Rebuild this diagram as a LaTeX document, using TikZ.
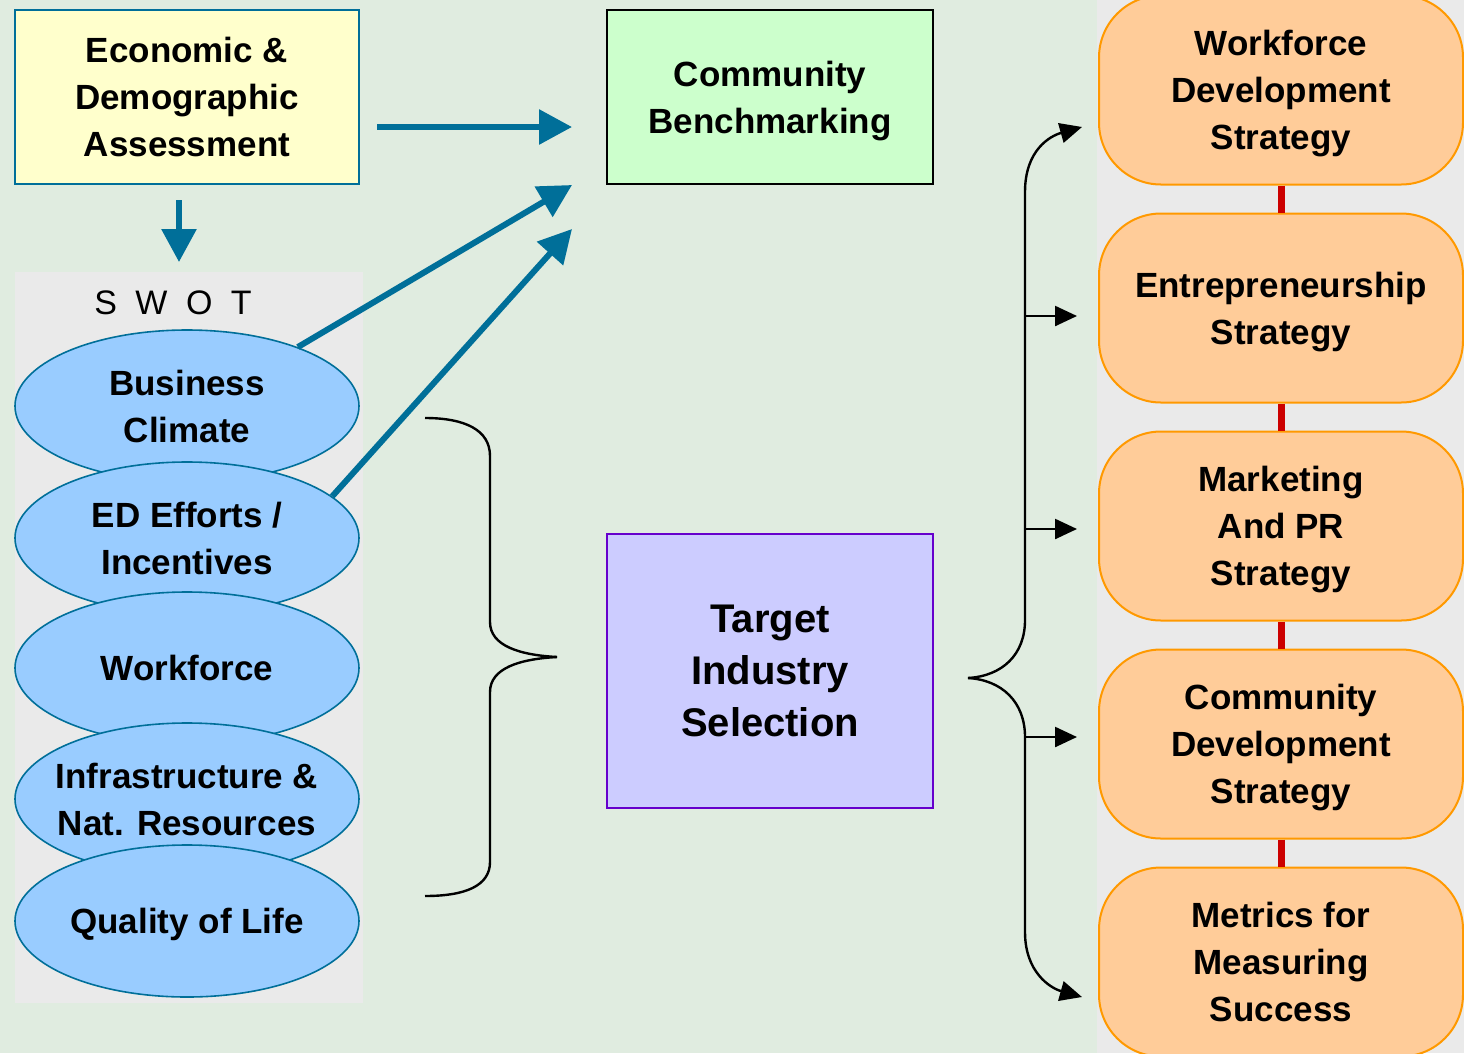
\documentclass[tikz,border=0pt]{standalone}
\usepackage{fontspec}
\setmainfont{Liberation Sans}
\usetikzlibrary{positioning, arrows.meta, shapes.geometric}
\definecolor{bggreen}{RGB}{224,236,224}
\definecolor{panelgray}{RGB}{234,234,234}
\definecolor{flowblue}{RGB}{0,111,153}
\definecolor{econyellow}{RGB}{255,255,204}
\definecolor{benchgreen}{RGB}{204,255,204}
\definecolor{targetblue}{RGB}{204,204,255}
\definecolor{targetedge}{RGB}{102,0,204}
\definecolor{swotblue}{RGB}{153,204,255}
\definecolor{stratorange}{RGB}{255,204,153}
\definecolor{stratedge}{RGB}{255,153,0}
\definecolor{linkred}{RGB}{204,0,0}
\tikzset{
  every node/.style={font=\bfseries\fontsize{35}{47}\selectfont, align=center,
    text depth=0pt},
  node distance=27pt,
  inputbox/.style={draw=flowblue, line width=2pt, fill=econyellow,
    minimum width=344pt, minimum height=174pt, inner sep=0pt},
  benchbox/.style={draw=black, line width=2pt, fill=benchgreen,
    minimum width=326pt, minimum height=174pt, inner sep=0pt},
  targetbox/.style={draw=targetedge, line width=2pt, fill=targetblue,
    minimum width=326pt, minimum height=274pt, inner sep=0pt,
    font=\bfseries\fontsize{40}{52}\selectfont},
  factor/.style={ellipse, draw=flowblue, line width=1.6pt, fill=swotblue,
    minimum width=344pt, minimum height=152pt, inner xsep=-30pt, inner ysep=0pt},
  strategy/.style={draw=stratedge, line width=2pt, fill=stratorange,
    rounded corners=62pt, minimum width=364pt, minimum height=189pt, inner sep=0pt},
  flow/.style={draw=flowblue, line width=6pt, -{Triangle[length=33pt,width=34pt]}},
  link/.style={draw=linkred, line width=7pt},
  bracepath/.style={draw=black, line width=2.4pt},
  stratarrow/.style={bracepath, -{Triangle[length=22pt,width=20pt]}},
}

\begin{document}
\begin{tikzpicture}[x=1pt,y=-1pt]
  \useasboundingbox (0,0) rectangle (1464,1053);
  \fill[bggreen] (0,0) rectangle (1464,1053);
  \fill[panelgray] (15,272) rectangle (363,1003);
  \fill[panelgray] (1097,0) rectangle (1464,1053);

  % SWOT factors
  \node[font=\fontsize{34}{40}\selectfont] (swot) at (173,303)
    {S\hspace{18.5pt}W\hspace{18.5pt}O\hspace{18.5pt}T};
  \node[factor] (bc)  at (187,406) {Business\\Climate};
  \node[factor] (ed)  at (187,538) {ED Efforts /\\Incentives};
  \node[factor] (wf)  at (187,668) {Workforce};
  \node[factor] (inf) at (187,799) {Infrastructure \&\\Nat. Resources};
  \node[factor] (qol) at (187,921) {Quality of Life};

  % main boxes
  \node[inputbox]  (econ)   at (187,97)  {Economic \&\\Demographic\\Assessment};
  \node[benchbox]  (bench)  at (770,97)  {Community\\Benchmarking};
  \node[targetbox] (target) at (770,671) {Target\\Industry\\Selection};

  % strategies
  \node[strategy] (wds) at (1281,90) {Workforce\\Development\\Strategy};
  \node[strategy, below=of wds] (ent) {Entrepreneurship\\Strategy};
  \node[strategy, below=of ent] (mkt) {Marketing\\And PR\\Strategy};
  \node[strategy, below=of mkt] (cds) {Community\\Development\\Strategy};
  \node[strategy, below=of cds] (msr) {Metrics for\\Measuring\\Success};

  \draw[link] (wds.south) -- (ent.north);
  \draw[link] (ent.south) -- (mkt.north);
  \draw[link] (mkt.south) -- (cds.north);
  \draw[link] (cds.south) -- (msr.north);

  % blue flow arrows
  \coordinate (econ-out)  at (377,127);
  \coordinate (bench-in)  at (572,127);
  \coordinate (swot-in)   at (179,262);
  \coordinate (econ-down) at (179,200);
  \coordinate (bench-bc)  at (572,185);
  \coordinate (bench-ed)  at (572,229);

  \draw[flow] (econ-out) -- (bench-in);
  \draw[flow] (econ-down) -- (swot-in);
  \draw[flow] (bc.28) -- (bench-bc);
  \draw[flow] (ed.16) -- (bench-ed);

  % brace into target selection
  \draw[bracepath] (425,418) .. controls (465,418) and (490,430) .. (490,456)
    -- (490,622) .. controls (490,646) and (520,655) .. (557,657);
  \draw[bracepath] (557,657) .. controls (520,659) and (490,668) .. (490,692)
    -- (490,862) .. controls (490,886) and (465,896) .. (425,896);

  % brace out to strategies
  \coordinate (fork) at (968,678);
  \coordinate (to-wds) at (1082,127);
  \coordinate (to-msr) at (1082,997);
  \draw[stratarrow] (fork) .. controls (1002,676) and (1025,655) .. (1025,620)
    -- (1025,192) .. controls (1025,150) and (1050,136) .. (to-wds);
  \draw[stratarrow] (fork) .. controls (1002,680) and (1025,702) .. (1025,737)
    -- (1025,932) .. controls (1025,972) and (1050,988) .. (to-msr);
  \foreach \y/\n in {316/ent, 529/mkt, 737/cds} {
    \coordinate (from-\n) at (1025,\y);
    \coordinate (to-\n) at (1077,\y);
    \draw[stratarrow] (from-\n) -- (to-\n);
  }
\end{tikzpicture}
\end{document}
